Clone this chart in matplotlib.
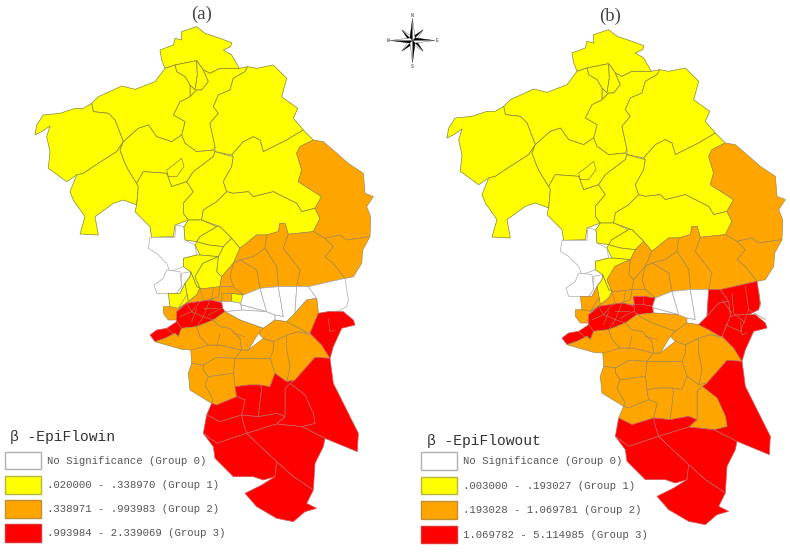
import numpy as np
import matplotlib
matplotlib.use('Agg')
import matplotlib.pyplot as plt
from matplotlib.patches import Polygon, Rectangle

plt.rcParams['font.family'] = ['Liberation Mono', 'DejaVu Sans']

# outlines, units are 1/3 pixel, y down
upper = {
 'n_top': [(480,150),(520,135),(525,115),(545,120),(545,95),(590,80),(615,100),(660,115),(695,128),(692,140),(670,150),(695,165),(718,205),(660,205),(630,220),(610,210),(590,182),(525,195),(495,205),(485,180)],
 'n_small': [(525,195),(590,182),(592,225),(585,270),(570,255),(555,230),(530,215)],
 'n_neck': [(590,182),(610,210),(625,245),(605,270),(590,270),(570,290),(570,255),(585,270),(592,225)],
 'n_mid': [(570,290),(590,270),(605,270),(625,245),(610,210),(630,220),(660,205),(718,205),(743,200),(735,215),(700,235),(690,270),(655,285),(640,320),(655,340),(630,370),(645,440),(640,450),(590,455),(555,430),(545,405),(555,365),(520,345),(540,305)],
 'n_east': [(743,200),(770,205),(820,195),(850,225),(860,235),(845,290),(893,325),(880,355),(910,390),(860,420),(790,455),(780,420),(760,410),(730,425),(695,465),(645,455),(645,440),(630,370),(655,340),(640,320),(655,285),(690,270),(700,235),(735,215)],
 'nw_mid': [(495,205),(525,195),(530,215),(555,230),(570,255),(570,290),(540,305),(520,345),(555,365),(545,405),(515,425),(470,410),(445,375),(415,385),(370,425),(345,360),(325,340),(280,335),(275,310),(295,290),(350,265),(365,258),(405,268),(465,245)],
 'west': [(275,310),(280,335),(325,340),(345,360),(370,425),(350,455),(295,490),(250,520),(230,525),(200,545),(145,505),(150,455),(140,410),(150,378),(125,395),(105,405),(110,375),(130,345),(180,340),(225,325),(250,325)],
 'sw': [(350,455),(370,425),(360,450),(375,490),(385,510),(410,550),(415,560),(410,615),(370,600),(340,610),(285,650),(295,705),(240,702),(255,650),(220,600),(210,575),(230,525),(250,520),(295,490)],
 'center': [(370,425),(415,385),(445,375),(470,410),(515,425),(545,405),(555,430),(590,455),(640,450),(645,455),(640,470),(580,515),(560,545),(515,560),(500,520),(430,515),(410,550),(385,510),(375,490),(360,450)],
 'enclave': [(500,510),(520,495),(545,475),(552,500),(530,530),(505,530)],
 's_mid': [(430,515),(500,520),(515,560),(560,545),(580,575),(550,610),(550,640),(565,660),(525,675),(520,710),(455,712),(450,680),(405,635),(410,615),(415,560),(410,550)],
 'c_east': [(645,455),(700,470),(695,500),(670,545),(680,575),(650,605),(610,630),(605,660),(565,660),(550,640),(550,610),(580,575),(560,545),(580,515),(640,470)],
 'e_yellow': [(695,465),(730,425),(760,410),(780,420),(790,455),(860,420),(910,390),(940,420),(900,440),(890,460),(905,510),(895,545),(965,590),(945,625),(905,635),(890,610),(820,575),(760,590),(745,575),(700,580),(680,575),(670,545),(695,500),(700,470)],
 's_yellow': [(680,575),(700,580),(745,575),(760,590),(820,575),(890,610),(905,635),(945,625),(960,655),(940,695),(865,703),(855,670),(840,670),(835,695),(800,705),(770,705),(720,745),(695,715),(660,680),(605,660),(610,630),(650,605)],
 'ne_orange': [(940,420),(970,425),(1005,455),(1045,490),(1090,520),(1095,580),(1120,590),(1100,620),(1112,650),(1110,710),(1040,720),(1020,705),(975,715),(940,695),(960,655),(945,625),(965,590),(895,545),(905,510),(890,460),(900,440)],
 'w1': [(450,712),(525,712),(527,675),(552,680),(555,720),(585,735),(590,765),(550,775),(550,800),(510,815),(500,790),(470,760),(445,745)],
 'w2': [(500,810),(540,815),(545,860),(530,880),(505,880),(470,880),(462,855),(490,835)],
 'w3': [(545,820),(572,815),(570,830),(555,850),(540,880),(530,880),(545,860)],
 'y1': [(552,680),(565,660),(605,660),(650,680),(600,710),(590,725),(555,720)],
 'y2': [(600,710),(650,680),(660,680),(695,715),(670,740),(625,735),(590,725)],
 'y3': [(670,740),(695,715),(720,745),(700,790),(665,830),(650,815),(655,770)],
 'y4': [(590,725),(625,735),(670,740),(655,770),(600,765),(585,735)],
 'y5a': [(550,775),(590,765),(600,765),(655,770),(609,790),(585,830),(600,865),(590,860),(572,815),(550,800)],
 'y5b': [(655,770),(650,815),(665,830),(660,860),(620,865),(600,865),(585,830),(609,790)],
 'y6': [(572,815),(590,860),(600,865),(590,885),(565,905),(555,850),(570,830)],
 'y7': [(505,880),(530,880),(540,880),(555,850),(565,905),(530,930),(525,925),(510,920)],
 'c1': [(720,745),(770,705),(800,705),(795,745),(760,770),(720,780),(700,790)],
 'c2': [(800,705),(835,695),(840,670),(855,670),(865,703),(850,745),(885,790),(900,810),(890,860),(835,860),(830,800),(795,745)],
 'c3': [(850,745),(865,703),(940,695),(975,715),(1000,740),(975,770),(1000,790),(1035,835),(925,860),(890,860),(900,810),(885,790)],
 'c4': [(720,780),(760,770),(795,745),(830,800),(835,860),(780,865),(770,810)],
 'c5': [(700,790),(720,780),(770,810),(780,865),(730,885),(700,860),(690,830)],
 'c6': [(665,830),(700,790),(690,830),(700,860),(660,860)],
 'c7': [(660,860),(700,860),(730,885),(695,880),(664,880),(665,905),(625,900),(655,890)],
 'c7b': [(664,880),(695,880),(695,905),(665,905)],
 'c8': [(600,865),(620,865),(660,860),(655,890),(625,900),(560,910),(535,925),(530,930),(565,905),(590,885)],
 'o1': [(975,715),(1020,705),(1040,720),(1110,710),(1088,750),(1085,790),(1060,830),(1035,835),(1000,790),(975,770),(1000,740)],
 'yc': [(695,880),(730,885),(722,910),(695,905)],
 'row': [(665,905),(695,905),(722,910),(725,930),(675,935),(668,925)],
 'wb1': [(730,885),(780,865),(800,935),(725,915),(722,910)],
 'wb2': [(722,910),(725,915),(800,935),(725,930)],
 'wb3': [(675,935),(725,930),(800,935),(825,945),(825,960),(790,985),(720,960)],
 'wb4': [(780,865),(835,860),(850,950),(825,945),(800,935)],
 'wb5': [(835,860),(890,860),(885,940),(860,965),(825,960),(825,945),(850,950)],
 'wb6': [(890,860),(925,860),(950,895),(920,900),(885,940)],
 'e1': [(925,860),(1035,835),(1045,900),(1040,920),(1010,935),(985,935),(955,940),(950,895)],
 'oa': [(490,920),(510,920),(535,925),(530,960),(505,960),(490,940)],
 'core': [(530,935),(560,910),(630,900),(665,908),(668,925),(675,935),(640,960),(590,980),(545,985),(535,1010),(525,1000),(495,1015),(465,1025),(450,1005),(470,990),(500,985),(530,965)],
}

# southern half, y counted from 810
lower = {
 'p1': [(860,195),(895,185),(935,195),(965,225),(990,265),(945,262),(925,285),(885,330),(860,335),(870,290),(860,240)],
 'p2': [(820,215),(860,195),(860,240),(870,290),(860,335),(825,310),(810,265),(820,240)],
 'p3': [(705,265),(770,265),(810,265),(825,310),(810,350),(780,345),(745,345),(705,350),(700,310)],
 'p4': [(572,235),(625,225),(660,225),(725,240),(705,265),(650,262),(610,285),(575,280)],
 'p5': [(610,285),(650,262),(705,265),(700,310),(625,320),(610,300)],
 'p6': [(575,280),(610,285),(610,300),(625,320),(615,345),(640,390),(635,400),(570,360),(565,310)],
 'p7': [(625,320),(700,310),(705,350),(710,380),(650,405),(635,400),(640,390),(615,345)],
 'p8': [(725,240),(745,240),(790,205),(820,215),(820,240),(810,265),(770,265),(705,265)],
 'p9': [(790,175),(825,150),(860,155),(890,170),(925,190),(895,185),(860,195),(820,215),(790,205),(775,190)],
 'p10': [(860,155),(885,130),(920,90),(950,85),(955,130),(930,190),(925,190),(890,170)],
 'p11': [(465,215),(495,205),(525,190),(535,200),(545,175),(590,170),(600,200),(625,225),(575,240),(545,238),(500,225)],
 'p12': [(590,170),(640,150),(660,170),(690,175),(720,205),(725,240),(660,225),(625,225),(600,200)],
 'p13': [(640,150),(675,125),(720,150),(790,175),(775,190),(745,240),(725,240),(720,205),(690,175),(660,170)],
 'r_ne': [(955,130),(985,125),(1030,125),(1060,150),(1065,165),(1025,175),(1000,230),(990,265),(965,225),(930,190)],
 'r1': [(990,265),(1000,340),(1075,490),(1072,545),(975,505),(905,470),(945,460),(940,430),(915,375),(870,340),(885,330),(925,285),(945,262)],
 'r2': [(870,340),(915,375),(940,430),(945,460),(905,470),(830,462),(855,440),(855,355)],
 'r3': [(705,350),(745,345),(780,345),(785,355),(775,440),(725,435),(735,390),(710,380)],
 'r4': [(780,345),(810,350),(825,310),(860,335),(885,330),(870,340),(855,355),(855,440),(830,430),(775,440),(785,355)],
 'r5': [(650,405),(710,380),(735,390),(725,435),(660,455),(620,435),(635,400)],
 'r6': [(725,435),(775,440),(830,430),(855,440),(830,462),(740,490),(730,460)],
 'r7': [(620,435),(660,455),(725,435),(730,460),(740,490),(650,520),(610,490)],
 'r8': [(740,490),(830,462),(905,470),(975,505),(970,530),(945,580),(940,660),(880,620),(830,575),(750,500)],
 'r9': [(610,490),(650,520),(740,490),(750,500),(830,575),(825,620),(790,630),(760,620),(700,620),(645,565),(640,530)],
 'r10': [(830,575),(880,620),(940,660),(920,700),(950,715),(915,725),(880,755),(830,745),(770,710),(735,670),(785,645),(825,620)],
}

groups_a = {k: 1 for k in ['n_top','n_small','n_neck','n_mid','n_east','nw_mid','west','sw','center','enclave','s_mid','c_east','e_yellow','s_yellow','y1','y2','y3','y4','y5a','y5b','y6','y7','yc']}
groups_a.update({k: 0 for k in ['w1','w2','w3','row','wb1','wb2','wb3','wb4','wb5','wb6','e1']})
groups_a.update({k: 2 for k in ['ne_orange','c1','c2','c3','c4','c5','c6','c7','c7b','c8','o1','oa','p1','p2','p3','p4','p5','p6','p7','p8','p9','p10','p11','p12','p13']})
groups_a.update({k: 3 for k in ['core','r_ne','r1','r2','r3','r4','r5','r6','r7','r8','r9','r10']})

groups_b = dict(groups_a)
groups_b.update({k: 2 for k in ['y3','y5b','y7','wb3','r2','r3','r4','r5']})
groups_b.update({k: 3 for k in ['yc','row','c7b','wb6','e1','p10']})

# detail lines inside the city core and the dense cells
inner_both = [
 [(560,910),(575,935),(540,950)], [(575,935),(610,950),(590,980)], [(610,950),(640,960)],
 [(630,900),(610,950)], [(610,925),(650,925)], [(575,935),(600,905)], [(590,925),(575,965)],
 [(625,945),(665,925)], [(530,965),(545,985)], [(500,985),(520,1003)],
 [(600,865),(610,900)], [(640,865),(635,900)], [(535,925),(560,885)],
 [(985,955),(990,995),(1005,990)], [(700,1000),(735,1010)], [(660,1000),(650,1040)],
]
inner_b = [
 [(960,870),(965,930),(1000,960)], [(1000,850),(1010,920),(1060,950)], [(930,890),(960,930)],
 [(1010,920),(985,985)], [(1040,860),(1045,910)], [(940,965),(985,985)],
]

group_fill = ['#ffffff', '#ffff00', '#ffa500', '#ff0000']
group_edge = ['#ababab', '#85853a', '#a58a50', '#c86060']
swatch_edge = ['#b0b0b0', '#b5b540', '#c09030', '#e03030']

titles = ['(a)', '(b)']
title_xy = [(604, 42), (594, 39)]
legend_title = ['β -EpiFlowin', 'β -EpiFlowout']
legend_labels = [
 ['No Significance (Group 0)', '.020000 - .338970 (Group 1)', '.338971 - .993983 (Group 2)', '.993984 - 2.339069 (Group 3)'],
 ['No Significance (Group 0)', '.003000 - .193027 (Group 1)', '.193028 - 1.069781 (Group 2)', '1.069782 - 5.114985 (Group 3)'],
]
swatch_x = [14, 26]
swatch_w = 108
swatch_h = 53
swatch_y = [[1355, 1428, 1500, 1573], [1348, 1421, 1495, 1568]]
text_x = [140, 153]
legend_title_xy = [(30, 1310), (46, 1313)]

fig = plt.figure(figsize=(7.9, 5.54), dpi=100)
W, H = 790.0, 554.0


def draw_panel(left, top, groups, extra, i):
    ax = fig.add_axes([left / W, (H - top - 554) / H, 395 / W, 554 / H])
    ax.set_xlim(0, 1185)
    ax.set_ylim(1662, 0)
    ax.axis('off')
    ax.patch.set_alpha(0)
    shapes = dict(upper)
    for k, v in lower.items():
        shapes[k] = [(x, y + 810) for x, y in v]
    for k, pts in shapes.items():
        g = groups[k]
        ax.add_patch(Polygon(pts, closed=True, facecolor=group_fill[g], edgecolor=group_edge[g], linewidth=0.5, joinstyle='round'))
    for line in inner_both + extra:
        xs, ys = zip(*line)
        ax.plot(xs, ys, color='#b08060', lw=0.45)
    ax.text(title_xy[i][0], title_xy[i][1], titles[i], family='Liberation Serif', fontsize=13.5, color='#444444', ha='center', va='center')
    ax.text(legend_title_xy[i][0], legend_title_xy[i][1], legend_title[i], fontsize=10.5, color='#333333', va='center')
    for j in range(4):
        ax.add_patch(Rectangle((swatch_x[i], swatch_y[i][j]), swatch_w, swatch_h, facecolor=group_fill[j], edgecolor=swatch_edge[j], linewidth=1))
        ax.text(text_x[i], swatch_y[i][j] + swatch_h / 2, legend_labels[i][j], fontsize=7.65, color='#555555', va='center')
    return ax


draw_panel(0, 0, groups_a, [], 0)
draw_panel(412, 3, groups_b, inner_b, 1)

# north arrow
cx = fig.add_axes([385 / W, (H - 68) / H, 55 / W, 55 / H])
cx.set_xlim(-27.5, 27.5)
cx.set_ylim(-27.5, 27.5)
cx.axis('off')
for ang, r in [(45, 15), (135, 15), (225, 15), (315, 15), (0, 22), (90, 22), (180, 22), (270, 22)]:
    a = np.deg2rad(ang)
    tip = (r * np.cos(a), r * np.sin(a))
    s1 = (3.6 * np.cos(a + np.pi / 4), 3.6 * np.sin(a + np.pi / 4))
    s2 = (3.6 * np.cos(a - np.pi / 4), 3.6 * np.sin(a - np.pi / 4))
    cx.add_patch(Polygon([(0, 0), s1, tip], facecolor='black', edgecolor='black', lw=0.3))
    cx.add_patch(Polygon([(0, 0), s2, tip], facecolor='white', edgecolor='#555555', lw=0.3))
for t, x, y in [('N', 0, 25), ('S', 0, -25.5), ('W', -24.5, 0), ('E', 24.5, 0)]:
    cx.text(x, y, t, fontsize=3.5, ha='center', va='center', color='#333333')

fig.savefig('out.png', dpi=100)
